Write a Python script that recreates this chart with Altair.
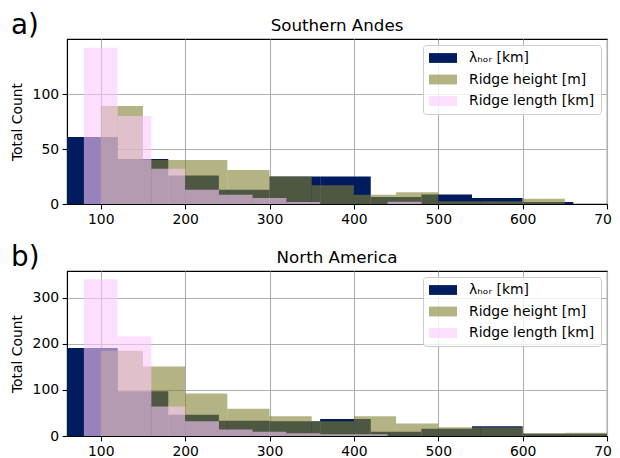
import altair as alt
import pandas as pd

# ---- data ----
series_names = ["λₕₒᵣ [km]", "Ridge height [m]", "Ridge length [km]"]
series_colors = ["#001b5e", "rgba(128,128,48,0.6)", "rgba(252,200,252,0.6)"]

lam_edges = [60, 120, 180, 240, 300, 360, 420, 480, 540, 600, 660, 720]
height_edges = [100, 150, 200, 250, 300, 350, 400, 450, 500, 550, 600, 650, 700]
length_edges = [80, 120, 160, 200, 240, 280, 320, 360, 400, 440, 480]

# a) Southern Andes
a_lam = [61, 41, 26, 13, 25, 25, 6.3, 8.7, 5.5, 1.8, 0]
a_height = [89, 40, 40, 31, 25, 17, 8.4, 10.6, 2.4, 2.4, 4.8, 0]
a_length = [142, 80, 32, 13, 8.4, 5.4, 1.8, 0, 0, 2]

# b) North America
b_lam = [191, 97, 46, 33, 32, 37, 9, 16, 21, 5, 5]
b_height = [185, 151, 92, 59, 43, 32, 43, 27, 19, 19, 6, 7]
b_length = [340, 216, 64, 32, 14, 9, 6, 4, 4, 0]

x_ticks = [100, 200, 300, 400, 500, 600, 700]
a_yticks = [0, 50, 100]
b_yticks = [0, 100, 200, 300]
a_ymax = 150
b_ymax = 358

FONT = "DejaVu Sans"
W, H = 540, 165


def build_df(lam, height, length):
    rows = []
    for name, edges, vals in [
        (series_names[0], lam_edges, lam),
        (series_names[1], height_edges, height),
        (series_names[2], length_edges, length),
    ]:
        for i, v in enumerate(vals):
            rows.append({"series": name, "x0": edges[i], "x1": edges[i + 1], "count": v})
    return pd.DataFrame(rows)


def legend():
    return alt.Legend(
        title=None,
        orient="top-right",
        offset=6,
        symbolType="M-2,-0.7L2,-0.7L2,0.7L-2,0.7Z",
        symbolSize=196,
        symbolStrokeWidth=0,
        symbolOffset=7,
        labelFont=FONT,
        labelFontSize=13.9,
        labelColor="black",
        labelOffset=19,
        labelLimit=0,
        padding=6,
        rowPadding=7.5,
        fillColor="rgba(255,255,255,0.8)",
        strokeColor="#cccccc",
        cornerRadius=3,
        zindex=2,
    )


def panel(df, title, label, ymax, yticks):
    bars = alt.Chart(df).mark_bar(clip=True, strokeWidth=0).encode(
        x=alt.X(
            "x0:Q",
            scale=alt.Scale(domain=[60, 700], nice=False, zero=False),
            axis=alt.Axis(values=x_ticks, title=None, labelFlush=False, format="d"),
        ),
        x2="x1:Q",
        y=alt.Y(
            "count:Q",
            stack=None,
            scale=alt.Scale(domain=[0, ymax], nice=False),
            axis=alt.Axis(values=yticks, title="Total Count", format="d"),
        ),
        y2=alt.datum(0),
        color=alt.Color(
            "series:N",
            scale=alt.Scale(domain=series_names, range=series_colors),
            legend=legend(),
        ),
    )
    lab = alt.Chart(pd.DataFrame({"t": [label]})).mark_text(
        align="left", baseline="alphabetic", font=FONT, fontSize=27.8, color="black"
    ).encode(x=alt.value(-56), y=alt.value(-5), text="t:N")
    ttl = alt.Chart(pd.DataFrame({"t": [title]})).mark_text(
        align="center", baseline="alphabetic", font=FONT, fontSize=16.7, color="black"
    ).encode(x=alt.value(W / 2), y=alt.value(-8), text="t:N")
    return alt.layer(bars, lab, ttl).properties(width=W, height=H)


pa = panel(build_df(a_lam, a_height, a_length), "Southern Andes", "a)", a_ymax, a_yticks)
pb = panel(build_df(b_lam, b_height, b_length), "North America", "b)", b_ymax, b_yticks)

chart = (
    alt.vconcat(pa, pb, spacing=67, bounds="flush")
    .resolve_scale(color="independent", x="independent", y="independent")
    .properties(
        autosize=alt.AutoSizeParams(type="none"),
        padding={"left": 59, "top": 31, "right": 5, "bottom": 419},
        background="white",
    )
    .configure_view(stroke="black", strokeWidth=1.1)
    .configure_axis(
        grid=True,
        gridColor="#b0b0b0",
        gridWidth=1.1,
        domain=True,
        domainColor="black",
        domainWidth=1.1,
        tickColor="black",
        tickSize=4.9,
        tickWidth=1.1,
        labelFont=FONT,
        labelFontSize=13.9,
        labelColor="black",
        labelPadding=3.5,
        titleFont=FONT,
        titleFontSize=13.9,
        titleFontWeight="normal",
        titleColor="black",
        titlePadding=8,
        zindex=1,
    )
)

chart.save("out.html", embed_options={"renderer": "svg", "actions": False})
